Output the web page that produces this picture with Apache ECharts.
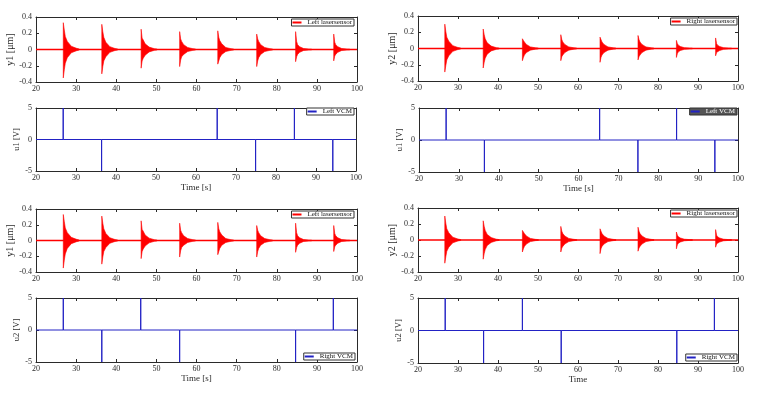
<!DOCTYPE html>
<html>
<head>
<meta charset="utf-8">
<script src="https://cdn.jsdelivr.net/npm/echarts@6/dist/echarts.min.js"></script>
<style>
  html, body { margin: 0; padding: 0; background: #fff; }
  #chart { width: 760px; height: 397px; }
</style>
</head>
<body>
<div id="chart"></div>
<script>
// x axis ticks (time, s)
const xTicks = [20, 30, 40, 50, 60, 70, 80, 90, 100];
const yTicksLaser = [-0.4, -0.2, 0, 0.2, 0.4];
const yTicksVcm = [-5, 0, 5];

// burst envelope offsets after each impact (s)
const envOffsets = [0, 0.25, 0.5, 1.0, 2.0, 3.3, 4.0];

// left laser sensor y1: burst start times and envelope (upper / lower)
const y1BurstTimes = [26.8, 36.4, 46.2, 55.8, 65.3, 75.0, 84.7, 94.2];
const y1Upper = [
  [0.33, 0.24, 0.16, 0.10, 0.04, 0.015, 0.005],
  [0.31, 0.22, 0.15, 0.09, 0.035, 0.012, 0.005],
  [0.25, 0.14, 0.12, 0.07, 0.03, 0.01, 0.005],
  [0.22, 0.13, 0.10, 0.06, 0.025, 0.01, 0.005],
  [0.23, 0.15, 0.11, 0.07, 0.025, 0.01, 0.005],
  [0.19, 0.13, 0.10, 0.06, 0.025, 0.01, 0.005],
  [0.22, 0.10, 0.06, 0.035, 0.012, 0.005, 0.005],
  [0.19, 0.09, 0.06, 0.035, 0.012, 0.005, 0.005]
];
const y1Lower = [
  [-0.35, -0.25, -0.17, -0.10, -0.04, -0.015, -0.005],
  [-0.30, -0.21, -0.14, -0.09, -0.035, -0.012, -0.005],
  [-0.23, -0.14, -0.11, -0.07, -0.03, -0.01, -0.005],
  [-0.21, -0.13, -0.09, -0.06, -0.025, -0.01, -0.005],
  [-0.18, -0.14, -0.10, -0.06, -0.025, -0.01, -0.005],
  [-0.21, -0.14, -0.10, -0.06, -0.025, -0.01, -0.005],
  [-0.15, -0.09, -0.06, -0.035, -0.012, -0.005, -0.005],
  [-0.14, -0.08, -0.06, -0.035, -0.012, -0.005, -0.005]
];

// right laser sensor y2
const y2BurstTimes = [26.7, 36.3, 46.1, 55.7, 65.5, 75.0, 84.6, 94.4];
const y2Upper = [
  [0.30, 0.21, 0.14, 0.09, 0.035, 0.012, 0.005],
  [0.24, 0.17, 0.12, 0.07, 0.03, 0.01, 0.005],
  [0.12, 0.10, 0.08, 0.05, 0.02, 0.008, 0.005],
  [0.17, 0.11, 0.08, 0.05, 0.02, 0.008, 0.005],
  [0.14, 0.11, 0.08, 0.05, 0.02, 0.008, 0.005],
  [0.16, 0.11, 0.08, 0.05, 0.02, 0.008, 0.005],
  [0.10, 0.06, 0.04, 0.025, 0.01, 0.005, 0.005],
  [0.13, 0.06, 0.04, 0.025, 0.01, 0.005, 0.005]
];
const y2Lower = [
  [-0.29, -0.21, -0.14, -0.09, -0.035, -0.012, -0.005],
  [-0.24, -0.17, -0.12, -0.07, -0.03, -0.01, -0.005],
  [-0.15, -0.11, -0.08, -0.05, -0.02, -0.008, -0.005],
  [-0.15, -0.10, -0.08, -0.05, -0.02, -0.008, -0.005],
  [-0.17, -0.11, -0.08, -0.05, -0.02, -0.008, -0.005],
  [-0.14, -0.10, -0.08, -0.05, -0.02, -0.008, -0.005],
  [-0.11, -0.06, -0.04, -0.025, -0.01, -0.005, -0.005],
  [-0.09, -0.05, -0.04, -0.025, -0.01, -0.005, -0.005]
];

// VCM inputs: pulse times and amplitudes
const u1PulseTimes = [26.8, 36.4, 65.3, 74.9, 84.6, 94.2];
const u1PulseAmps = [5, -5, 5, -5, 5, -5];
const u2PulseTimes = [26.8, 36.4, 46.1, 55.8, 84.7, 94.1];
const u2PulseAmps = [5, -5, 5, -5, -5, 5];

const FONT = 'Liberation Serif';
const RED = '#ff0000';
const BLUE = '#2222c4';

const Y1 = { times: y1BurstTimes, upper: y1Upper, lower: y1Lower };
const Y2 = { times: y2BurstTimes, upper: y2Upper, lower: y2Lower };
const U1 = { times: u1PulseTimes, amps: u1PulseAmps };
const U2 = { times: u2PulseTimes, amps: u2PulseAmps };

const panels = [
  { box: [36, 17, 321, 65], laser: Y1, name: 'Left lasersensor', yName: 'y1 [μm]', legend: { right: 406, top: 19 } },
  { box: [418, 16, 320, 65], laser: Y2, name: 'Right lasersensor', yName: 'y2 [μm]', legend: { right: 23, top: 18 } },
  { box: [36, 108, 320, 63], vcm: U1, name: 'Left VCM', yName: 'u1 [V]', xName: 'Time [s]', legend: { right: 406, top: 108 } },
  { box: [419, 108, 319, 64], vcm: U1, name: 'Left VCM', yName: 'u1 [V]', xName: 'Time [s]', legend: { right: 23, top: 108 }, dark: true },
  { box: [36, 209, 321, 63], laser: Y1, name: 'Left lasersensor', yName: 'y1 [μm]', legend: { right: 406, top: 211 } },
  { box: [418, 208, 320, 64], laser: Y2, name: 'Right lasersensor', yName: 'y2 [μm]', legend: { right: 23, top: 210 } },
  { box: [36, 298, 321, 64], vcm: U2, name: 'Right VCM', yName: 'u2 [V]', xName: 'Time [s]', legend: { right: 405, top: 353 } },
  { box: [418, 298, 320, 65], vcm: U2, name: 'Right VCM', yName: 'u2 [V]', xName: 'Time', legend: { right: 23, top: 354 } }
];

const axisLine = { show: true, onZero: false, lineStyle: { color: '#2a2a2a', width: 1 } };
const axisTick = { show: true, inside: true, length: 3, lineStyle: { color: '#2a2a2a' } };
const labelStyle = { fontFamily: FONT, fontSize: 8, color: '#2a2a2a' };

const option = { animation: false, grid: [], xAxis: [], yAxis: [], legend: [], series: [] };

function burstRenderer(src) {
  return function (params, api) {
    const i = params.dataIndex;
    const t0 = src.times[i];
    const up = src.upper[i].map((v, k) => api.coord([t0 + envOffsets[k], v]));
    const lo = src.lower[i].map((v, k) => api.coord([t0 + envOffsets[k], v])).reverse();
    return {
      type: 'polygon',
      shape: { points: up.concat(lo) },
      style: { fill: RED, stroke: RED, lineWidth: 0.6 }
    };
  };
}

panels.forEach((p, g) => {
  const [left, top, width, height] = p.box;
  option.grid.push({ left, top, width, height, show: false });

  const xMin = xTicks[0], xMax = xTicks[xTicks.length - 1];
  const yT = p.laser ? yTicksLaser : yTicksVcm;
  const yMin = yT[0], yMax = yT[yT.length - 1];
  const yStep = yT[1] - yT[0];

  option.xAxis.push({
    type: 'value', gridIndex: g, min: xMin, max: xMax, interval: xTicks[1] - xTicks[0],
    position: 'bottom', axisLine, axisTick, splitLine: { show: false },
    axisLabel: Object.assign({ margin: 3 }, labelStyle),
    name: p.xName || '', nameLocation: 'middle', nameGap: 12,
    nameTextStyle: { fontFamily: FONT, fontSize: 9, color: '#2a2a2a' }
  });
  option.xAxis.push({
    type: 'value', gridIndex: g, min: xMin, max: xMax, interval: xTicks[1] - xTicks[0],
    position: 'top', axisLine, axisTick, axisLabel: { show: false }, splitLine: { show: false }
  });
  option.yAxis.push({
    type: 'value', gridIndex: g, min: yMin, max: yMax, interval: yStep,
    position: 'left', axisLine, axisTick, splitLine: { show: false },
    axisLabel: Object.assign({ margin: 4 }, labelStyle),
    name: p.yName, nameLocation: 'middle', nameGap: p.laser ? 19 : 15, nameRotate: 90,
    nameTextStyle: { fontFamily: FONT, fontSize: p.laser ? 10 : 8.5, color: '#2a2a2a' }
  });
  option.yAxis.push({
    type: 'value', gridIndex: g, min: yMin, max: yMax, interval: yStep,
    position: 'right', axisLine, axisTick, axisLabel: { show: false }, splitLine: { show: false }
  });

  const xi = 2 * g, yi = 2 * g;
  const color = p.laser ? RED : BLUE;

  if (p.laser) {
    option.series.push({
      type: 'line', name: p.name, xAxisIndex: xi, yAxisIndex: yi,
      data: [[xMin, 0], [xMax, 0]], symbol: 'none', silent: true,
      lineStyle: { color: RED, width: 1.6 }, itemStyle: { color: RED }
    });
    option.series.push({
      type: 'custom', xAxisIndex: xi, yAxisIndex: yi, silent: true,
      renderItem: burstRenderer(p.laser),
      data: p.laser.times.map((t, i) => [t, p.laser.upper[i][0]])
    });
  } else {
    const pts = [[xMin, 0]];
    p.vcm.times.forEach((t, i) => {
      pts.push([t, 0], [t, p.vcm.amps[i]], [t, 0]);
    });
    pts.push([xMax, 0]);
    option.series.push({
      type: 'line', name: p.name, xAxisIndex: xi, yAxisIndex: yi,
      data: pts, symbol: 'none', silent: true,
      lineStyle: { color: BLUE, width: 1 }, itemStyle: { color: BLUE }
    });
  }

  option.legend.push(Object.assign({
    data: [{ name: p.name, itemStyle: { color: color } }], orient: 'horizontal', icon: 'rect',
    itemWidth: 9, itemHeight: 2, itemGap: 2, padding: [0, 2, 0, 1],
    backgroundColor: p.dark ? '#555555' : '#ffffff',
    borderColor: '#333333', borderWidth: 1, borderRadius: 0,
    selectedMode: false,
    textStyle: { fontFamily: FONT, fontSize: 7, color: p.dark ? '#ffffff' : '#111111', padding: [1, 0, 0, 1] }
  }, p.legend));
});

const chart = echarts.init(document.getElementById('chart'), null, { renderer: 'canvas' });
chart.setOption(option);
</script>
</body>
</html>
